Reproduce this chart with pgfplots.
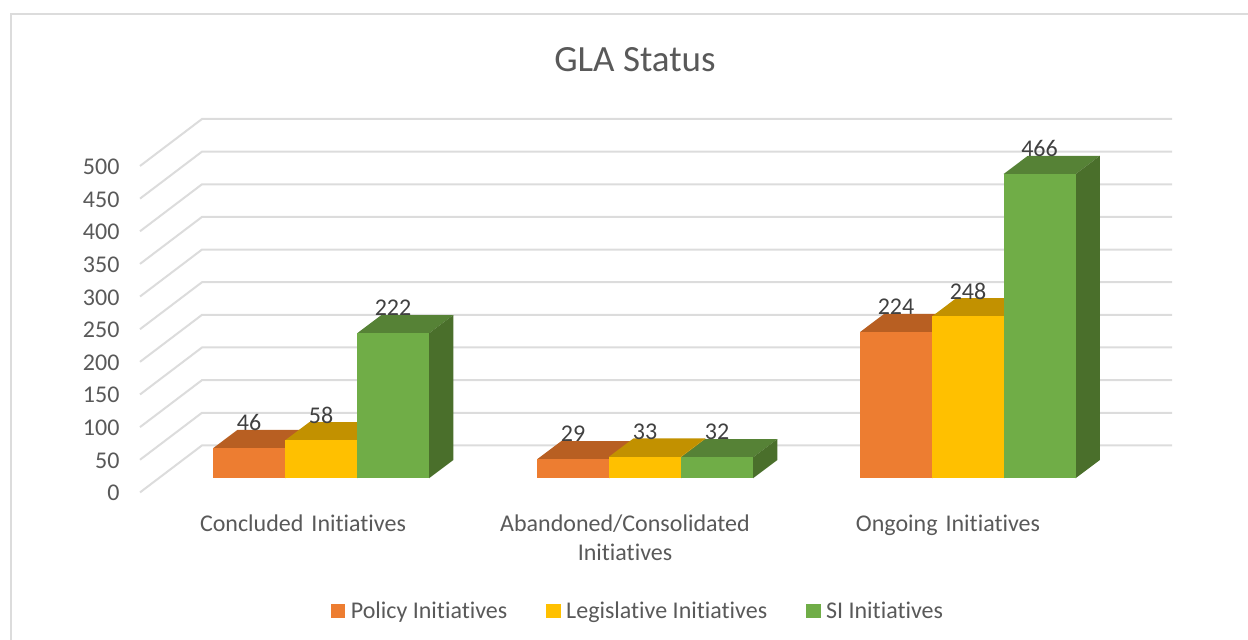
\documentclass[border=0pt]{standalone}
\usepackage{pgfplots}
\pgfplotsset{compat=1.18}
\usepackage{pgfplotstable}
\usepackage{fontspec}
\setmainfont[Ligatures=NoCommon]{Carlito}
\definecolor{txt}{HTML}{595959}
\definecolor{lab}{HTML}{404040}
\definecolor{gridc}{HTML}{DCDCDC}
\definecolor{OF}{HTML}{ED7D31}\definecolor{OT}{HTML}{B85F22}\definecolor{OS}{HTML}{B85F22}
\definecolor{YF}{HTML}{FFC000}\definecolor{YT}{HTML}{C29100}\definecolor{YS}{HTML}{C29100}
\definecolor{GF}{HTML}{70AD47}\definecolor{GT}{HTML}{568236}\definecolor{GS}{HTML}{4A6F2B}
% x = left edge of the bar front (px), v = value
\pgfplotstableread{
x v lx
213 46 249
537 29 573
860 224 896
}\policy
\pgfplotstableread{
x v lx
285 58 321
609 33 645
932 248 968
}\legis
\pgfplotstableread{
x v lx
357 222 393
681 32 717
1003.5 466 1039.5
}\si
\newcommand{\onebar}[5]{%
  \pgfmathsetmacro{\xa}{#1}\pgfmathsetmacro{\xb}{#1+72}%
  \pgfmathsetmacro{\xc}{#1+96.3}\pgfmathsetmacro{\xd}{#1+24.3}%
  \pgfmathsetmacro{\yb}{21.6}\pgfmathsetmacro{\yt}{21.6+#2}%
  \pgfmathsetmacro{\yc}{21.6+28}\pgfmathsetmacro{\yd}{21.6+28+#2}%
  \addplot[fill=#4,draw=none,forget plot] coordinates {(\xa,\yt)(\xd,\yd)(\xc,\yd)(\xb,\yt)} --cycle;
  \addplot[fill=#5,draw=none,forget plot] coordinates {(\xb,\yb)(\xc,\yc)(\xc,\yd)(\xb,\yt)} --cycle;
  \addplot[fill=#3,draw=none,forget plot] coordinates {(\xa,\yb)(\xb,\yb)(\xb,\yt)(\xa,\yt)} --cycle;
}
\newcommand{\gridl}[1]{%
  \pgfmathsetmacro{\yf}{#1}\pgfmathsetmacro{\yg}{#1+72}%
  \addplot[gridc,line width=2pt,forget plot] coordinates {(140,\yf)(202,\yg)(1172,\yg)};
}
\begin{document}
\begin{tikzpicture}[x=1pt,y=1pt]
\path[use as bounding box] (-140,-147.6) rectangle (1108,492.4);
\draw[gridc,line width=2pt] (-129,-147.6) -- (-129,478.4) -- (1108,478.4);
\begin{axis}[
  at={(0,0)},anchor=south west,
  scale only axis,width=1032pt,height=373.4pt,
  xmin=140,xmax=1172,ymin=0,ymax=572,
  clip=false,
  axis line style={draw=none},
  major tick length=0pt,
  ytick={0,50,...,500},
  xtick={303,625,948},
  xticklabels={Concluded Initiatives,{Abandoned/Consolidated\\Initiatives},Ongoing Initiatives},
  /pgf/number format/assume math mode=true,
  tick label style={font=\fontsize{24}{29}\selectfont,text=txt},
  yticklabel style={xshift=-17pt,yshift=-0.8pt},
  xticklabel style={align=center,anchor=north,yshift=-19pt,text width=300pt},
  legend style={draw=none,fill=none,at={(axis cs:638,-181)},anchor=center,
     font=\fontsize{24}{28}\selectfont,text=txt,legend columns=-1,
     /tikz/every odd column/.append style={column sep=4pt},
     /tikz/every even column/.append style={column sep=37pt},
     inner sep=0pt},
  legend image code/.code={\fill[#1] (0pt,-6.5pt) rectangle (13.5pt,6.5pt);},
  nodes near coords style={font=\fontsize{24}{28}\selectfont,text=lab,anchor=center,inner sep=0pt},
]
\gridl{0}\gridl{50}\gridl{100}\gridl{150}\gridl{200}\gridl{250}\gridl{300}\gridl{350}\gridl{400}\gridl{450}\gridl{500}
\onebar{213}{46}{OF}{OT}{OS}\onebar{285}{58}{YF}{YT}{YS}\onebar{357}{222}{GF}{GT}{GS}
\onebar{537}{29}{OF}{OT}{OS}\onebar{609}{33}{YF}{YT}{YS}\onebar{681}{32}{GF}{GT}{GS}
\onebar{860}{224}{OF}{OT}{OS}\onebar{932}{248}{YF}{YT}{YS}\onebar{1003.5}{466}{GF}{GT}{GS}
\addlegendimage{OF}\addlegendentry{Policy Initiatives}
\addlegendimage{YF}\addlegendentry{Legislative Initiatives}
\addlegendimage{GF}\addlegendentry{SI Initiatives}
\addplot[draw=none,mark=none,forget plot,nodes near coords,point meta=explicit] table[x=lx,y expr=\thisrow{v}+60.5,meta=v] {\policy};
\addplot[draw=none,mark=none,forget plot,nodes near coords,point meta=explicit] table[x=lx,y expr=\thisrow{v}+60.5,meta=v] {\legis};
\addplot[draw=none,mark=none,forget plot,nodes near coords,point meta=explicit] table[x=lx,y expr=\thisrow{v}+60.5,meta=v] {\si};
\node[font=\fontsize{37}{44}\selectfont,text=txt,anchor=center] at (axis cs:635,663) {GLA Status};
\end{axis}
\end{tikzpicture}
\end{document}
